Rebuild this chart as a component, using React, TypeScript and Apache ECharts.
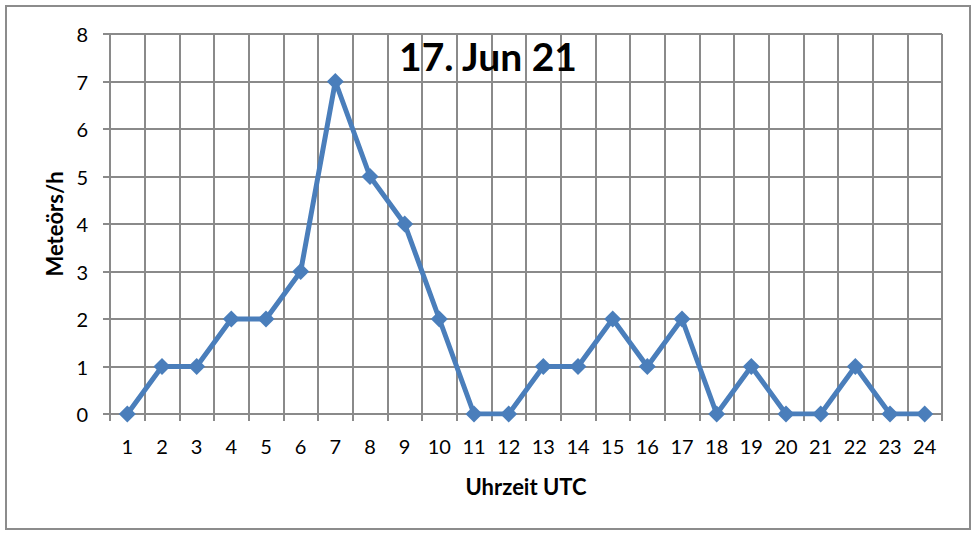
import React, { useEffect, useRef } from "react";
import * as echarts from "echarts";

const hours = ["1","2","3","4","5","6","7","8","9","10","11","12","13","14","15","16","17","18","19","20","21","22","23","24"];
const meteors = [0,1,1,2,2,3,7,5,4,2,0,0,1,1,2,1,2,0,1,0,0,1,0,0];
const titleText = "17. Jun 21";
const xName = "Uhrzeit UTC";
const yName = "Meteörs/h";

const FONT = "Lato, 'Open Sans', sans-serif";
const GRID = "#8a8a8a";

export default function App() {
  const ref = useRef<HTMLDivElement>(null);
  useEffect(() => {
    document.body.style.margin = "0";
    const chart = echarts.init(ref.current!, null, { renderer: "svg" });
    chart.setOption({
      animation: false,
      backgroundColor: "#ffffff",
      title: {
        text: titleText,
        left: "center",
        top: 31,
        textStyle: { fontFamily: FONT, fontSize: 39, fontWeight: "bold", color: "#000" },
      },
      graphic: [
        {
          type: "rect",
          shape: { x: 6, y: 6, width: 964, height: 523 },
          style: { fill: "none", stroke: "#8c8c8c", lineWidth: 2 },
          z: -1,
        },
      ],
      grid: { left: 110, top: 34, right: 34, bottom: 122 },
      xAxis: {
        type: "category",
        data: hours,
        boundaryGap: true,
        name: xName,
        nameLocation: "middle",
        nameGap: 61,
        nameTextStyle: { fontFamily: FONT, fontSize: 22, fontWeight: "bold", color: "#000" },
        axisLine: { show: true, lineStyle: { color: GRID, width: 2 } },
        axisTick: { show: true, length: 7, lineStyle: { color: GRID, width: 2 } },
        axisLabel: { fontFamily: FONT, fontSize: 20, color: "#000", margin: 22, interval: 0 },
        splitLine: { show: true, interval: 0, lineStyle: { color: GRID, width: 2 } },
      },
      yAxis: {
        type: "value",
        min: 0,
        max: 8,
        interval: 1,
        name: yName,
        nameLocation: "middle",
        nameGap: 44,
        nameTextStyle: { fontFamily: FONT, fontSize: 22, fontWeight: "bold", color: "#000" },
        axisLine: { show: true, lineStyle: { color: GRID, width: 2 } },
        axisTick: { show: true, length: 7, lineStyle: { color: GRID, width: 2 } },
        axisLabel: { fontFamily: FONT, fontSize: 20, color: "#000", margin: 22 },
        splitLine: { show: true, lineStyle: { color: GRID, width: 2 } },
      },
      series: [
        {
          type: "line",
          data: meteors,
          symbol: "diamond",
          symbolSize: 17,
          itemStyle: { color: "#4a7ebb" },
          lineStyle: { color: "#4a7ebb", width: 5 },
          z: 5,
        },
      ],
    });
    return () => chart.dispose();
  }, []);
  return <div ref={ref} style={{ width: 976, height: 536 }} />;
}
